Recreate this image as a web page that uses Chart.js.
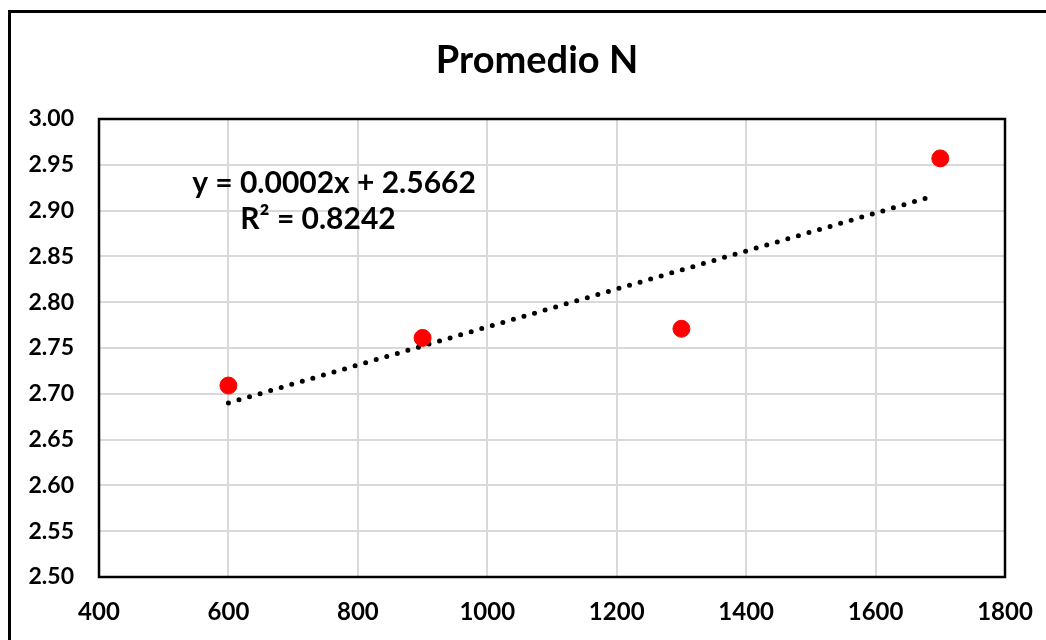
<!DOCTYPE html>
<html>
<head>
<meta charset="utf-8">
<script src="https://cdn.jsdelivr.net/npm/chart.js@4.4.0/dist/chart.umd.min.js"></script>
<style>
  html, body { margin: 0; padding: 0; background: #fff; }
  #wrap { width: 1046px; height: 640px; }
</style>
</head>
<body>
<div id="wrap"><canvas id="chart" width="1046" height="640"></canvas></div>
<script>
// values
const dosis = [600, 900, 1300, 1700];
const promedioN = [2.709, 2.761, 2.771, 2.957];
// trendline end points as drawn (600 -> ~1690)
const trendX = [600, 1690];
const trendY = [2.690, 2.916];
const titleText = 'Promedio N';
const eqLine1 = 'y = 0.0002x + 2.5662';
const eqLine2 = 'R² = 0.8242';

const FONT = 'Lato, "Open Sans", sans-serif';

// frame, plot border, title and equation
const decor = {
    id: 'decor',
    beforeDraw(chart) {
        const c = chart.ctx;
        c.save();
        c.strokeStyle = '#000';
        c.lineWidth = 3;
        c.beginPath();
        c.moveTo(9.5, 645);
        c.lineTo(9.5, 11.5);
        c.lineTo(1050, 11.5);
        c.stroke();
        c.restore();
    },
    beforeDatasetsDraw(chart) {
        const a = chart.chartArea;
        const c = chart.ctx;
        c.save();
        c.strokeStyle = '#000';
        c.lineWidth = 2.5;
        c.strokeRect(a.left, a.top, a.right - a.left, a.bottom - a.top);
        c.restore();
    },
    afterDraw(chart) {
        const c = chart.ctx;
        c.save();
        c.fillStyle = '#000';
        c.textAlign = 'center';
        c.textBaseline = 'middle';
        c.font = 'bold 38px ' + FONT;
        c.fillText(titleText, 537, 61);
        c.font = 'bold 30px ' + FONT;
        c.fillText(eqLine1, 334, 183);
        c.fillText(eqLine2, 318, 219);
        c.restore();
    }
};

const ctx = document.getElementById('chart').getContext('2d');
new Chart(ctx, {
    type: 'scatter',
    data: {
        datasets: [
            {
                label: 'Promedio N',
                data: dosis.map((x, i) => ({ x: x, y: promedioN[i] })),
                backgroundColor: '#ff0000',
                borderColor: '#ff0000',
                pointRadius: 8.5,
                pointHoverRadius: 8.5,
                order: 1
            },
            {
                label: 'Lineal',
                data: trendX.map((x, i) => ({ x: x, y: trendY[i] })),
                showLine: true,
                borderColor: '#000',
                borderWidth: 5,
                borderDash: [0, 11],
                borderCapStyle: 'round',
                pointRadius: 0,
                order: 2
            }
        ]
    },
    options: {
        responsive: false,
        animation: false,
        layout: {
            padding: { left: 0, right: 41, top: 119, bottom: 0 }
        },
        plugins: {
            legend: { display: false },
            title: { display: false },
            tooltip: { enabled: false }
        },
        scales: {
            x: {
                type: 'linear',
                min: 400,
                max: 1800,
                afterFit: s => { s.height = 63; s.paddingLeft = 0; s.paddingRight = 0; },
                grid: { color: '#d9d9d9', lineWidth: 2, drawTicks: false },
                border: { display: false },
                ticks: {
                    stepSize: 200,
                    padding: 21,
                    color: '#000',
                    font: { family: FONT, size: 24, weight: 'bold' },
                    callback: v => String(v)
                }
            },
            y: {
                type: 'linear',
                min: 2.5,
                max: 3.0,
                afterFit: s => { s.width = 99; s.paddingTop = 0; s.paddingBottom = 0; },
                grid: { color: '#d9d9d9', lineWidth: 2, drawTicks: false },
                border: { display: false },
                ticks: {
                    stepSize: 0.05,
                    padding: 25,
                    color: '#000',
                    font: { family: FONT, size: 23, weight: 'bold' },
                    callback: v => v.toFixed(2)
                }
            }
        }
    },
    plugins: [decor]
});
</script>
</body>
</html>
